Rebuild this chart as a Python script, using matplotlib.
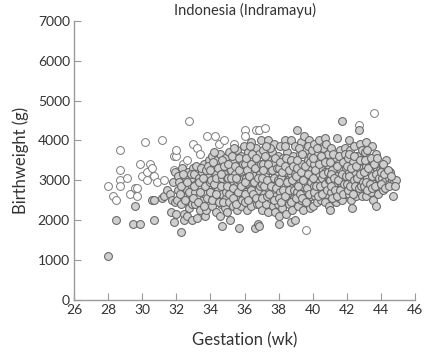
import numpy as np
import matplotlib
matplotlib.use('Agg')
import matplotlib.pyplot as plt

plt.rcParams['font.family'] = ['Lato', 'DejaVu Sans']

# Open circles (gestation wk, birthweight g)
open_pts = [(28.0, 2850), (28.3, 2600), (28.45, 2500), (28.7, 3750), (28.7, 3250),
            (28.7, 3000), (28.7, 2850), (29.1, 3050), (29.3, 2650), (29.6, 2800),
            (29.7, 2800), (29.7, 2600), (29.85, 3400), (30.0, 3100), (30.15, 3950),
            (30.3, 3200), (30.3, 3000), (30.45, 3400), (30.6, 3300), (30.7, 3100),
            (30.85, 2950), (31.15, 4000), (31.3, 3000), (31.85, 3250), (31.85, 3600),
            (32.0, 3600), (32.0, 3750), (32.4, 3400), (32.6, 3500), (32.75, 4500),
            (33.0, 3900), (33.2, 3800), (33.4, 3650), (33.8, 4100), (34.25, 4100),
            (34.5, 3900), (34.8, 4000), (35.4, 3900), (36.0, 4250), (36.0, 4100),
            (36.65, 4250), (36.85, 4250), (37.2, 4300), (39.6, 1750), (42.7, 4400),
            (43.6, 4700)]

# Filled circles, grouped by gestation week
wk28_30 = [(28.0, 1100), (28.45, 2000), (29.45, 1900), (29.6, 2350), (29.85, 1900),
           (30.6, 2500), (30.7, 2500), (30.7, 2000)]
wk31 = [(31.15, 2550), (31.3, 2600), (31.45, 2750), (31.6, 2650), (31.7, 2200),
        (31.75, 2500), (31.8, 2950), (31.85, 1950), (31.9, 3200), (31.9, 2450),
        (31.95, 2150)]
wk32 = [(32.05, 2500), (32.1, 3100), (32.1, 2750), (32.15, 2950), (32.3, 1700),
        (32.3, 2400), (32.35, 3300), (32.4, 2600), (32.45, 2150), (32.45, 2000),
        (32.5, 2900), (32.55, 3050), (32.6, 2750), (32.6, 2100), (32.7, 3200),
        (32.7, 2450), (32.75, 2300), (32.8, 2600), (32.85, 3000), (32.9, 2000),
        (32.9, 2850), (32.95, 3300), (32.95, 2550),
        (32.2, 2650), (32.25, 2850), (32.4, 3150), (32.5, 2500), (32.65, 2950),
        (32.75, 2700), (32.85, 3150), (32.9, 2400)]
wk33 = [(33.05, 3150), (33.1, 2400), (33.1, 2700), (33.15, 2900), (33.2, 2050),
        (33.25, 3300), (33.3, 2600), (33.35, 3050), (33.4, 2250), (33.45, 2800),
        (33.5, 3200), (33.55, 2500), (33.6, 2950), (33.65, 3400), (33.7, 2100),
        (33.7, 2650), (33.75, 2250), (33.8, 3100), (33.85, 2850), (33.9, 2450),
        (33.9, 3500), (33.95, 3250), (33.95, 2750),
        (33.0, 2550), (33.05, 2850), (33.15, 3350), (33.25, 2450), (33.3, 2950),
        (33.4, 2700), (33.45, 3300), (33.55, 3050), (33.6, 2350), (33.7, 2850),
        (33.75, 3250), (33.8, 2550), (33.85, 3350), (33.95, 2950)]
wk34 = [(34.05, 3000), (34.1, 2350), (34.1, 3600), (34.15, 2600), (34.2, 3350),
        (34.25, 2850), (34.3, 2200), (34.3, 3150), (34.35, 2500), (34.4, 3500),
        (34.45, 2750), (34.5, 3000), (34.55, 2100), (34.55, 3650), (34.6, 2400),
        (34.65, 3300), (34.7, 1850), (34.7, 2650), (34.75, 2900), (34.8, 3150),
        (34.85, 2300), (34.85, 3550), (34.9, 2550), (34.95, 2800), (34.95, 3400),
        (34.0, 2700), (34.0, 3250), (34.1, 2500), (34.15, 3450), (34.2, 2900),
        (34.3, 2650), (34.35, 3050), (34.45, 3300), (34.5, 2450), (34.6, 2850),
        (34.65, 3500), (34.7, 3050), (34.75, 2450), (34.8, 3350), (34.9, 2700),
        (34.95, 3050), (34.2, 3700), (34.6, 3150)]
wk35 = [(35.0, 2200), (35.05, 3050), (35.1, 2450), (35.1, 3700), (35.15, 2000),
        (35.2, 2700), (35.2, 3250), (35.3, 2950), (35.3, 2350), (35.35, 3500),
        (35.4, 2600), (35.45, 3150), (35.5, 2850), (35.55, 2250), (35.55, 3750),
        (35.6, 2500), (35.65, 3350), (35.7, 1800), (35.7, 3000), (35.75, 2700),
        (35.8, 2350), (35.8, 3600), (35.85, 3200), (35.9, 2550), (35.95, 2900),
        (35.95, 3850),
        (35.0, 2850), (35.05, 3400), (35.1, 2650), (35.2, 3050), (35.25, 3600),
        (35.3, 2550), (35.35, 2800), (35.45, 3350), (35.5, 2400), (35.5, 3050),
        (35.6, 2700), (35.65, 3550), (35.7, 3250), (35.8, 2850), (35.85, 2500),
        (35.9, 3400), (35.95, 3050), (35.4, 3800)]
wk36 = [(36.0, 2450), (36.05, 3400), (36.1, 2700), (36.1, 3050), (36.15, 2250),
        (36.2, 3700), (36.25, 2900), (36.3, 2550), (36.3, 3250), (36.35, 3950),
        (36.4, 2350), (36.45, 2800), (36.5, 3500), (36.55, 3100), (36.6, 1800),
        (36.6, 2600), (36.65, 3800), (36.7, 2950), (36.75, 2400), (36.75, 3350),
        (36.8, 1900), (36.8, 2750), (36.85, 1850), (36.85, 3650), (36.9, 3150),
        (36.95, 2550), (36.95, 4000),
        (36.0, 2950), (36.05, 2650), (36.1, 3550), (36.15, 3250), (36.2, 2500),
        (36.25, 3100), (36.35, 2750), (36.4, 3400), (36.45, 3650), (36.5, 2650),
        (36.55, 2950), (36.6, 3300), (36.7, 2550), (36.7, 3550), (36.8, 3050),
        (36.85, 2400), (36.9, 2850), (36.95, 3400), (36.3, 3850)]
wk37 = [(37.0, 2250), (37.05, 2900), (37.1, 3400), (37.1, 3750), (37.15, 2650),
        (37.2, 3100), (37.25, 2400), (37.3, 3550), (37.35, 2800), (37.4, 4000),
        (37.4, 2200), (37.45, 3250), (37.5, 2550), (37.55, 3000), (37.6, 3700),
        (37.65, 2350), (37.65, 2750), (37.7, 3400), (37.75, 3900), (37.8, 2200),
        (37.8, 3150), (37.85, 2600), (37.9, 2900), (37.95, 3600), (37.95, 2400),
        (37.0, 3050), (37.05, 2550), (37.1, 3250), (37.15, 2850), (37.2, 3600),
        (37.3, 2600), (37.3, 3000), (37.4, 3400), (37.45, 2650), (37.5, 3800),
        (37.55, 2850), (37.6, 3250), (37.7, 2500), (37.75, 3050), (37.8, 3550),
        (37.85, 2800), (37.9, 3300), (37.95, 3000), (37.25, 3850)]
wk38 = [(38.0, 1900), (38.0, 2100), (38.05, 3300), (38.1, 2700), (38.1, 3850),
        (38.15, 3050), (38.2, 2300), (38.25, 3550), (38.3, 2500), (38.3, 2850),
        (38.35, 4000), (38.4, 3200), (38.45, 2150), (38.5, 2650), (38.5, 3700),
        (38.55, 3000), (38.6, 2400), (38.65, 3400), (38.7, 1950), (38.7, 2800),
        (38.7, 4000), (38.75, 3150), (38.8, 2250), (38.85, 3600), (38.9, 2550),
        (38.95, 2000), (38.95, 2950), (38.95, 3850),
        (38.0, 2550), (38.05, 2950), (38.1, 3450), (38.15, 2450), (38.2, 3200),
        (38.25, 2750), (38.35, 3350), (38.4, 2600), (38.45, 3550), (38.5, 2950),
        (38.6, 3250), (38.6, 2750), (38.7, 3500), (38.75, 2450), (38.8, 3000),
        (38.85, 3350), (38.9, 2750), (38.95, 3150), (38.4, 3850)]
wk39 = [(39.05, 3300), (39.1, 2700), (39.1, 4250), (39.15, 2350), (39.2, 3050),
        (39.25, 3650), (39.3, 2500), (39.3, 3950), (39.35, 2850), (39.4, 3400),
        (39.45, 2250), (39.5, 3150), (39.5, 4100), (39.55, 2650), (39.6, 3750),
        (39.65, 2950), (39.7, 2400), (39.7, 3500), (39.75, 2800), (39.8, 4000),
        (39.8, 3250), (39.85, 2300), (39.9, 2600), (39.9, 3600), (39.95, 3050),
        (39.0, 2550), (39.0, 3100), (39.05, 3500), (39.15, 2850), (39.2, 3800),
        (39.25, 2650), (39.3, 3200), (39.4, 2550), (39.4, 3650), (39.45, 3000),
        (39.55, 3350), (39.6, 2450), (39.65, 2800), (39.7, 3150), (39.75, 3850),
        (39.8, 2650), (39.85, 3450), (39.9, 2950), (39.95, 3750)]
wk40 = [(40.0, 2350), (40.05, 2850), (40.1, 3400), (40.1, 3900), (40.15, 2600),
        (40.2, 3150), (40.25, 2450), (40.3, 3650), (40.3, 2950), (40.35, 4000),
        (40.4, 2700), (40.45, 3300), (40.5, 2500), (40.55, 3050), (40.6, 3800),
        (40.6, 2800), (40.65, 3500), (40.7, 2450), (40.7, 4050), (40.75, 3200),
        (40.8, 2650), (40.85, 2950), (40.9, 3650), (40.95, 2350), (40.95, 3350),
        (40.0, 3050), (40.0, 3550), (40.1, 2700), (40.15, 3250), (40.2, 2850),
        (40.25, 3800), (40.3, 2600), (40.35, 3400), (40.45, 2850), (40.5, 3600),
        (40.55, 2650), (40.6, 3150), (40.7, 2900), (40.75, 3450), (40.8, 3900),
        (40.85, 2750), (40.9, 3200), (40.95, 3000)]
wk41 = [(41.0, 2250), (41.0, 3000), (41.05, 2700), (41.1, 3800), (41.15, 3250),
        (41.2, 2550), (41.25, 2900), (41.3, 3550), (41.35, 2450), (41.4, 4050),
        (41.4, 3100), (41.45, 2750), (41.5, 3400), (41.55, 2550), (41.6, 3750),
        (41.6, 2950), (41.65, 3250), (41.7, 4500), (41.7, 2500), (41.75, 2800),
        (41.8, 3550), (41.85, 3050), (41.9, 2650), (41.9, 3800), (41.95, 3300),
        (41.0, 3450), (41.05, 2850), (41.1, 3150), (41.15, 2550), (41.2, 3650),
        (41.25, 3050), (41.3, 2750), (41.4, 3350), (41.45, 2600), (41.5, 3000),
        (41.55, 3600), (41.6, 2750), (41.7, 3150), (41.75, 3450), (41.8, 2650),
        (41.85, 2900), (41.9, 3650), (41.95, 3100)]
wk42 = [(42.0, 2900), (42.05, 3550), (42.1, 4000), (42.1, 2650), (42.15, 3200),
        (42.2, 3750), (42.25, 2500), (42.3, 2300), (42.3, 3000), (42.35, 3450),
        (42.4, 2750), (42.45, 3850), (42.5, 3150), (42.55, 2600), (42.6, 3600),
        (42.65, 2900), (42.7, 4250), (42.7, 3300), (42.75, 2700), (42.8, 3900),
        (42.85, 3050), (42.9, 2600), (42.9, 3500), (42.95, 3200),
        (42.0, 3350), (42.05, 2750), (42.1, 3100), (42.15, 3650), (42.2, 2850),
        (42.25, 3300), (42.35, 2650), (42.4, 3000), (42.45, 3600), (42.5, 2850),
        (42.55, 3350), (42.6, 3050), (42.7, 2800), (42.75, 3500), (42.8, 3150),
        (42.85, 2850), (42.9, 3750), (42.95, 2950)]
wk43 = [(43.0, 2850), (43.05, 3700), (43.1, 2600), (43.15, 3950), (43.15, 3350),
        (43.2, 3050), (43.3, 2750), (43.3, 3550), (43.35, 3200), (43.4, 2700),
        (43.45, 3850), (43.5, 2950), (43.55, 2500), (43.55, 3450), (43.6, 3100),
        (43.7, 2350), (43.7, 3650), (43.75, 2850), (43.8, 3300), (43.85, 3050),
        (43.95, 3250), (43.95, 2750),
        (43.0, 3200), (43.05, 3500), (43.1, 2950), (43.2, 2750), (43.2, 3750),
        (43.25, 3300), (43.35, 2900), (43.4, 3550), (43.45, 3100), (43.5, 2800),
        (43.6, 3400), (43.65, 2850), (43.7, 3150), (43.8, 3550), (43.85, 2650),
        (43.9, 3050)]
wk44 = [(44.05, 3050), (44.1, 2750), (44.15, 3300), (44.2, 2950), (44.3, 3500),
        (44.35, 3150), (44.45, 3050), (44.5, 2900), (44.55, 3200), (44.65, 3000),
        (44.7, 2600), (44.75, 2950), (44.9, 3000),
        (44.0, 3200), (44.0, 2900), (44.1, 3400), (44.2, 3150), (44.25, 2800),
        (44.4, 3250), (44.45, 2850), (44.6, 3100), (44.8, 2850)]

filled_pts = (wk28_30 + wk31 + wk32 + wk33 + wk34 + wk35 + wk36 + wk37
              + wk38 + wk39 + wk40 + wk41 + wk42 + wk43 + wk44)

open_arr = np.array(open_pts)
filled_arr = np.array(filled_pts)

fig = plt.figure(figsize=(4.41, 3.6), dpi=100)
ax = fig.add_axes([0.168, 0.167, 0.773, 0.775])

ax.scatter(open_arr[:, 0], open_arr[:, 1], s=32, facecolor='white',
           edgecolor='#7a7a7a', linewidth=0.7, zorder=2)
ax.scatter(filled_arr[:, 0], filled_arr[:, 1], s=32, facecolor='#cfcfcf',
           edgecolor='#656565', linewidth=0.75, zorder=3)

ax.set_xlim(26, 46)
ax.set_ylim(0, 7000)
ax.set_xticks(np.arange(26, 47, 2))
ax.set_yticks(np.arange(0, 7001, 1000))

for side in ['top', 'right']:
    ax.spines[side].set_visible(False)
for side in ['left', 'bottom']:
    ax.spines[side].set_color('#9a9a9a')
    ax.spines[side].set_linewidth(1.0)

ax.tick_params(direction='in', length=5, width=0.8, color='#9a9a9a',
               labelsize=10, labelcolor='#333333', pad=3)

ax.set_title('Indonesia (Indramayu)', fontsize=10.5, color='#333333', pad=4)
ax.set_xlabel('Gestation (wk)', fontsize=12, color='#333333', labelpad=12)
ax.set_ylabel('Birthweight (g)', fontsize=12, color='#333333', labelpad=6)

fig.savefig('out.png', dpi=100)
